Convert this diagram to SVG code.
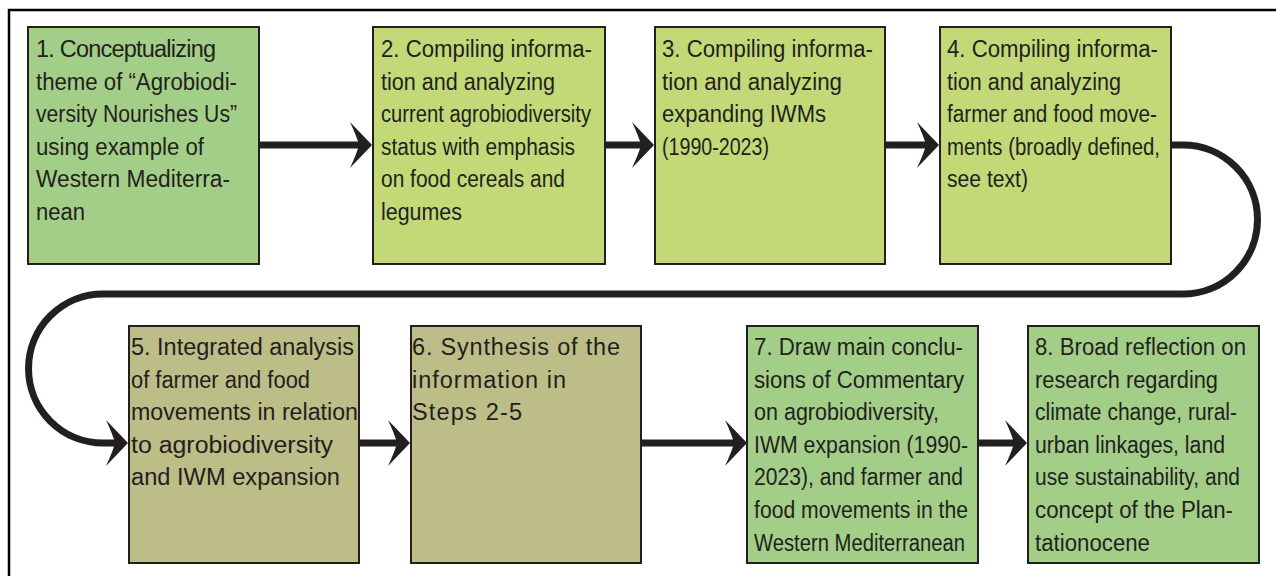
<svg xmlns="http://www.w3.org/2000/svg" xmlns:xlink="http://www.w3.org/1999/xlink" width="1276" height="576" viewBox="0 0 1276 576">
  <style>
    .box { stroke: #231f20; stroke-width: 2; }
    .g1 { fill: #a3ce88; }
    .g2 { fill: #c3d978; }
    .g3 { fill: #bdbd88; }
    text { font-family: "Liberation Sans", Arial, sans-serif; font-size: 23.5px; fill: #231f20; }
    .conn { fill: none; stroke: #231f20; stroke-width: 7; }
    .head { fill: #231f20; }
  </style>
  <defs>
    <path id="ah" class="head" d="M0 0 L-22 -23 Q-15 -8 -13 0 Q-15 8 -22 23 Z"/>
  </defs>
  <rect x="9" y="10" width="1320" height="620" fill="#ffffff" stroke="#000000" stroke-width="2.5"/>

  <g id="node1">
    <rect class="box g1" x="28" y="27" width="231" height="237"/>
    <text lengthAdjust="spacingAndGlyphs">
      <tspan x="36" y="57" textLength="180">1. Conceptualizing</tspan>
    </text>
    <text x="36" y="89.6" textLength="201" lengthAdjust="spacingAndGlyphs">theme of “Agrobiodi-</text>
    <text x="36" y="122.2" textLength="201" lengthAdjust="spacingAndGlyphs">versity Nourishes Us”</text>
    <text x="36" y="154.8" textLength="168" lengthAdjust="spacingAndGlyphs">using example of</text>
    <text x="36" y="187.4" textLength="194" lengthAdjust="spacingAndGlyphs">Western Mediterra-</text>
    <text x="36" y="220" textLength="49" lengthAdjust="spacingAndGlyphs">nean</text>
  </g>

  <g id="node2">
    <rect class="box g2" x="373" y="27" width="232" height="237"/>
    <text x="381" y="57" textLength="211" lengthAdjust="spacingAndGlyphs">2. Compiling informa-</text>
    <text x="381" y="89.6" textLength="174" lengthAdjust="spacingAndGlyphs">tion and analyzing</text>
    <text x="381" y="122.2" textLength="210" lengthAdjust="spacingAndGlyphs">current agrobiodiversity</text>
    <text x="381" y="154.8" textLength="194" lengthAdjust="spacingAndGlyphs">status with emphasis</text>
    <text x="381" y="187.4" textLength="184" lengthAdjust="spacingAndGlyphs">on food cereals and</text>
    <text x="381" y="220" textLength="81" lengthAdjust="spacingAndGlyphs">legumes</text>
  </g>

  <g id="node3">
    <rect class="box g2" x="655" y="27" width="230" height="237"/>
    <text x="662" y="57" textLength="211" lengthAdjust="spacingAndGlyphs">3. Compiling informa-</text>
    <text x="662" y="89.6" textLength="180" lengthAdjust="spacingAndGlyphs">tion and analyzing</text>
    <text x="662" y="122.2" textLength="164" lengthAdjust="spacingAndGlyphs">expanding IWMs</text>
    <text x="662" y="154.8" textLength="107" lengthAdjust="spacingAndGlyphs">(1990-2023)</text>
  </g>

  <g id="node4">
    <rect class="box g2" x="940" y="27" width="231" height="237"/>
    <text x="947" y="57" textLength="211" lengthAdjust="spacingAndGlyphs">4. Compiling informa-</text>
    <text x="947" y="89.6" textLength="174" lengthAdjust="spacingAndGlyphs">tion and analyzing</text>
    <text x="947" y="122.2" textLength="210" lengthAdjust="spacingAndGlyphs">farmer and food move-</text>
    <text x="947" y="154.8" textLength="213" lengthAdjust="spacingAndGlyphs">ments (broadly defined,</text>
    <text x="947" y="187.4" textLength="81" lengthAdjust="spacingAndGlyphs">see text)</text>
  </g>

  <g id="node5">
    <rect class="box g3" x="129" y="326" width="230" height="237"/>
    <text x="131" y="355" textLength="223" lengthAdjust="spacingAndGlyphs">5. Integrated analysis</text>
    <text x="131" y="387.6" textLength="179" lengthAdjust="spacingAndGlyphs">of farmer and food</text>
    <text x="131" y="420.2" textLength="227" lengthAdjust="spacingAndGlyphs">movements in relation</text>
    <text x="131" y="452.8" textLength="202" lengthAdjust="spacingAndGlyphs">to agrobiodiversity</text>
    <text x="131" y="485.4" textLength="209" lengthAdjust="spacingAndGlyphs">and IWM expansion</text>
  </g>

  <g id="node6">
    <rect class="box g3" x="411" y="326" width="230" height="237"/>
    <text x="412" y="355" textLength="208" lengthAdjust="spacing">6. Synthesis of the</text>
    <text x="412" y="387.6" textLength="154" lengthAdjust="spacing">information in</text>
    <text x="412" y="420.2" textLength="110" lengthAdjust="spacing">Steps 2-5</text>
  </g>

  <g id="node7">
    <rect class="box g1" x="747" y="326" width="231" height="237"/>
    <text x="754" y="355" textLength="209" lengthAdjust="spacingAndGlyphs">7. Draw main conclu-</text>
    <text x="754" y="387.6" textLength="210" lengthAdjust="spacingAndGlyphs">sions of Commentary</text>
    <text x="754" y="420.2" textLength="185" lengthAdjust="spacingAndGlyphs">on agrobiodiversity,</text>
    <text x="754" y="452.8" textLength="214" lengthAdjust="spacingAndGlyphs">IWM expansion (1990-</text>
    <text x="754" y="485.4" textLength="209" lengthAdjust="spacingAndGlyphs">2023), and farmer and</text>
    <text x="754" y="518" textLength="214" lengthAdjust="spacingAndGlyphs">food movements in the</text>
    <text x="754" y="550.6" textLength="211" lengthAdjust="spacingAndGlyphs">Western Mediterranean</text>
  </g>

  <g id="node8">
    <rect class="box g1" x="1028" y="326" width="231" height="237"/>
    <text x="1035" y="355" textLength="211" lengthAdjust="spacingAndGlyphs">8. Broad reflection on</text>
    <text x="1035" y="387.6" textLength="183" lengthAdjust="spacingAndGlyphs">research regarding</text>
    <text x="1035" y="420.2" textLength="202" lengthAdjust="spacingAndGlyphs">climate change, rural-</text>
    <text x="1035" y="452.8" textLength="190" lengthAdjust="spacingAndGlyphs">urban linkages, land</text>
    <text x="1035" y="485.4" textLength="205" lengthAdjust="spacingAndGlyphs">use sustainability, and</text>
    <text x="1035" y="518" textLength="198" lengthAdjust="spacingAndGlyphs">concept of the Plan-</text>
    <text x="1035" y="550.6" textLength="115" lengthAdjust="spacingAndGlyphs">tationocene</text>
  </g>

  <g id="connectors">
    <path class="conn" d="M259 145 H360"/>
    <use xlink:href="#ah" transform="translate(372 145)"/>
    <path class="conn" d="M605 145 H642"/>
    <use xlink:href="#ah" transform="translate(654 145)"/>
    <path class="conn" d="M885 145 H927"/>
    <use xlink:href="#ah" transform="translate(939 145)"/>
    <path class="conn" d="M1171 145 H1183 A74.5 74.5 0 0 1 1183 294 H103 A74.5 74.5 0 0 0 103 443 H116"/>
    <use xlink:href="#ah" transform="translate(128 443)"/>
    <path class="conn" d="M359 443 H398"/>
    <use xlink:href="#ah" transform="translate(410 443)"/>
    <path class="conn" d="M641 443 H735"/>
    <use xlink:href="#ah" transform="translate(747 443)"/>
    <path class="conn" d="M978 443 H1015"/>
    <use xlink:href="#ah" transform="translate(1027 443)"/>
  </g>
</svg>
